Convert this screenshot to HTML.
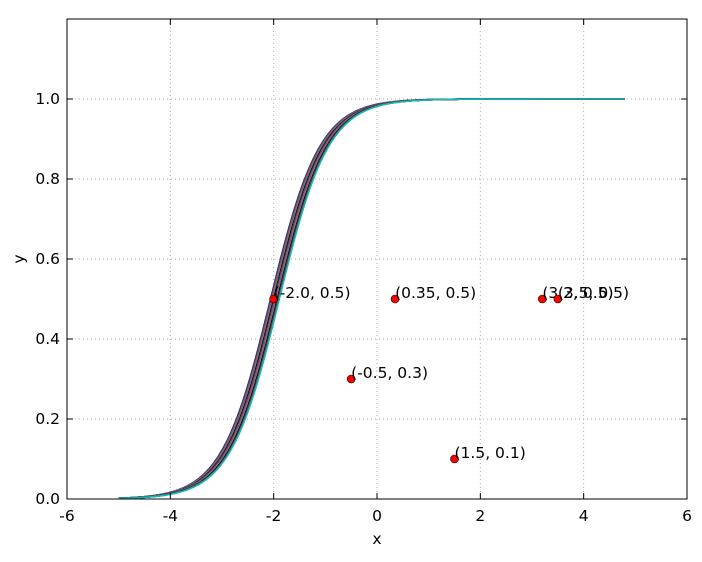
<!DOCTYPE html>
<html><head><meta charset="utf-8"><style>
body{margin:0;background:#fff}
text{font-family:"DejaVu Sans","Liberation Sans",sans-serif;font-size:15.5px;fill:#000}
</style></head><body>
<svg id="chart" width="702" height="557" xmlns="http://www.w3.org/2000/svg">
<rect width="702" height="557" fill="#fff"/>
<g id="grid"></g>
<g id="curves"></g>
<g id="points"></g>
<rect x="67" y="19" width="620" height="480" fill="none" stroke="#000" stroke-width="1"/>
<g id="ticks"></g>
<text x="377" y="544" text-anchor="middle">x</text>
<text x="24" y="259" text-anchor="middle" transform="rotate(-90 24 259)">y</text>
</svg>
<script>
const xTicks=[-6,-4,-2,0,2,4,6];
const yTicks=[0.0,0.2,0.4,0.6,0.8,1.0];
const curveCenters=[-2.06,-2.05,-2.04,-2.03,-2.02,-2.01,-2.0,-1.99,-1.98,-1.97,-1.96,-1.95,-1.94,-1.93,-1.92,-1.91,-1.9,-1.89];
const curveColors=['#0000ff','#008000','#ff0000','#00bfbf','#bf00bf','#bfbf00','#000000'];
const ptX=[-2.0,0.35,-0.5,1.5,3.2,3.5];
const ptY=[0.5,0.5,0.3,0.1,0.5,0.5];
const ptLabels=['(-2.0, 0.5)','(0.35, 0.5)','(-0.5, 0.3)','(1.5, 0.1)','(3.2, 0.5)','(3.5, 0.5)'];
const NS='http://www.w3.org/2000/svg';
const X=v=>377+v*620/12;
const Y=v=>499-v*400;
function mk(t,a,p){const e=document.createElementNS(NS,t);for(const k in a)e.setAttribute(k,a[k]);p.appendChild(e);return e;}
const grid=document.getElementById('grid'),ticks=document.getElementById('ticks');
xTicks.forEach(v=>{
 const g=mk('line',{x1:X(v),x2:X(v),y1:19,y2:499,stroke:'#aaa','stroke-dasharray':'1,3'},grid);
 
 
 mk('line',{x1:X(v),x2:X(v),y1:499,y2:493,stroke:'#000'},ticks);
 mk('line',{x1:X(v),x2:X(v),y1:19,y2:25,stroke:'#000'},ticks);
 const t=mk('text',{x:X(v),y:521,'text-anchor':'middle'},ticks);t.textContent=v;
 
 
});
yTicks.forEach(v=>{
 const g=mk('line',{x1:67,x2:687,y1:Y(v),y2:Y(v),stroke:'#aaa','stroke-dasharray':'1,3'},grid);
 
 
 mk('line',{x1:67,x2:73,y1:Y(v),y2:Y(v),stroke:'#000'},ticks);
 mk('line',{x1:681,x2:687,y1:Y(v),y2:Y(v),stroke:'#000'},ticks);
 const t=mk('text',{x:60,y:Y(v)+5,'text-anchor':'end'},ticks);t.textContent=v.toFixed(1);
 
 
});
function f(x,c){return 1/(1+Math.exp(-2.1*(x-c)));}
const cg=document.getElementById('curves');
curveCenters.forEach((c,i)=>{
 let p='';for(let x=-5;x<=4.8001;x+=0.05){p+=(p?'L':'M')+X(x).toFixed(2)+','+Y(f(x,c)).toFixed(2);}
 const e=mk('path',{d:p,fill:'none',stroke:curveColors[i%curveColors.length],'stroke-width':1.6},cg);
 
 
});
const pg=document.getElementById('points');
ptX.forEach((x,i)=>{
 const c=mk('circle',{cx:X(x),cy:Y(ptY[i]),r:4,fill:'#ff0000',stroke:'#000','stroke-width':0.6},pg);
 
 
 const t=mk('text',{x:X(x),y:Y(ptY[i])-1},pg);t.textContent=ptLabels[i];
 
 
});
</script>
</body></html>
